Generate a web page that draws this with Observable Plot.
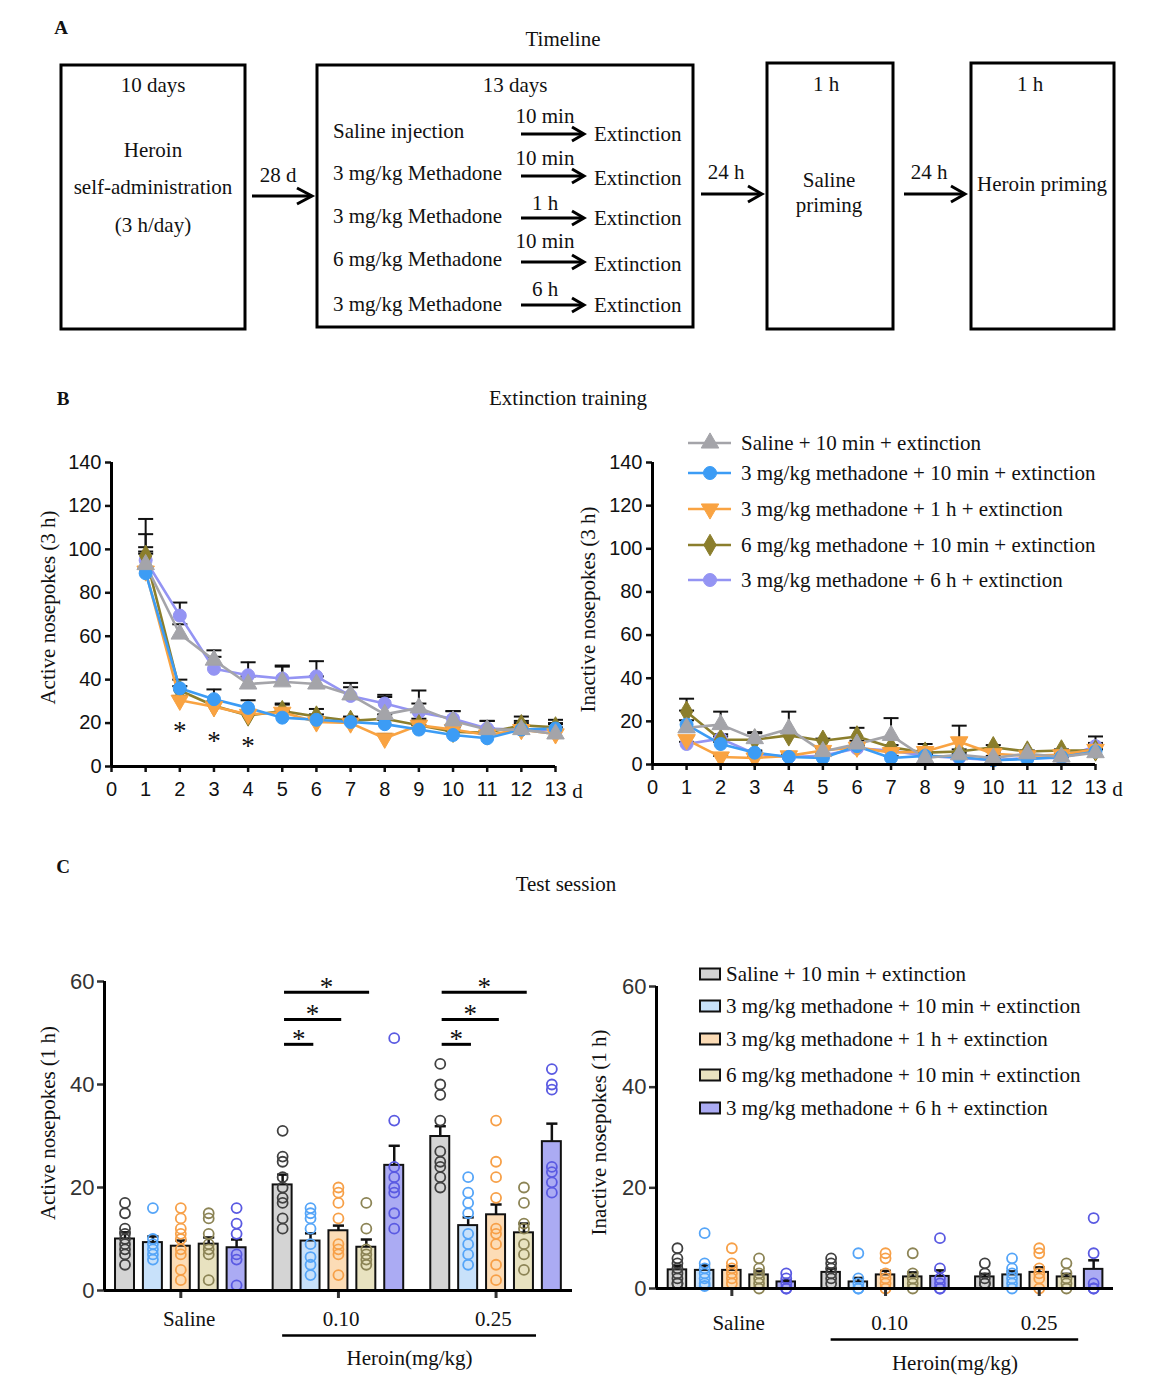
<!DOCTYPE html>
<html><head><meta charset="utf-8">
<script src="https://cdn.jsdelivr.net/npm/d3@7"></script>
<script src="https://cdn.jsdelivr.net/npm/@observablehq/plot@0.6"></script>
<style>
body{margin:0;background:#fff;}
#fig{position:relative;width:1174px;height:1382px;background:#fff;overflow:hidden;}
.wrap{position:absolute;}
</style></head><body><div id="fig"></div>
<script>
// ---------------- data ----------------
const days = [1,2,3,4,5,6,7,8,9,10,11,12,13];
const dayTicks = [0,1,2,3,4,5,6,7,8,9,10,11,12,13];
const seriesNames = [
  "Saline + 10 min + extinction",
  "3 mg/kg methadone + 10 min + extinction",
  "3 mg/kg methadone + 1 h + extinction",
  "6 mg/kg methadone + 10 min + extinction",
  "3 mg/kg methadone + 6 h + extinction"
];
const lineColors = ["#a4a4a9", "#3c9cf5", "#f9a342", "#8b7e2c", "#9494f3"];

// Panel B, active nosepokes (3 h): mean per day
const activeSaline = [93, 61, 49, 38, 39, 38, 33, 24, 27, 21, 17, 17, 15];
const activeM3min10 = [89, 36, 31, 27, 22.5, 21.5, 20.5, 19.5, 17, 14.5, 13, 17, 17.5];
const activeM3h1 = [90, 30.5, 27.5, 24, 25, 20.5, 20, 13, 19, 17, 14.5, 17, 15];
const activeM6min10 = [97, 35, 28, 23.5, 25.5, 23, 21, 22, 19, 16, 15.5, 19, 18];
const activeM3h6 = [95, 69.5, 45, 42, 40.5, 41.5, 32.5, 29, 25, 22, 17.5, 17, 17];
// SEM
const activeSalineSem = [14, 4.5, 4.5, 3.5, 7, 3.5, 5.5, 8, 8, 4.5, 4, 6, 3];
const activeM3min10Sem = [9, 4, 4.5, 3.5, 3, 2.5, 2, 2, 2, 2, 2, 2, 2];
const activeM3h1Sem = [9, 2, 2, 2, 3.5, 2, 2, 2, 3, 2, 1.5, 2, 2];
const activeM6min10Sem = [4, 2, 2, 2, 3.5, 3.5, 2, 2, 2, 2, 2, 2, 3.5];
const activeM3h6Sem = [19, 6, 5.5, 6, 6, 7, 4, 4, 4, 3.5, 3.5, 3, 3];

// Panel B, inactive nosepokes (3 h)
const inactiveSaline = [17, 18.5, 12, 16.5, 6, 9.5, 13.5, 3, 4.5, 3, 5, 3.5, 5.5];
const inactiveM3min10 = [18.5, 9.5, 5.5, 3.5, 3, 8.5, 3, 4, 3.5, 2, 2.5, 3.5, 6];
const inactiveM3h1 = [11.5, 3.5, 3, 4, 6.5, 8, 5.5, 6, 10.5, 5, 4, 4.5, 7];
const inactiveM6min10 = [24.5, 11.5, 11.5, 13.5, 11, 13, 8, 5.5, 6, 8, 6, 6.5, 6.5];
const inactiveM3h6 = [9.5, 12, 5, 3.5, 4, 7.5, 6.5, 4, 3, 2, 3, 3, 8.5];
const inactiveSalineSem = [13.5, 6, 3, 8, 2, 1.5, 8, 1.5, 1, 1, 1, 1, 7.5];
const inactiveM3min10Sem = [2, 1, 1, 1, 1, 1, 1, 1, 1, 0.5, 0.5, 0.5, 1];
const inactiveM3h1Sem = [1.5, 0.5, 0.5, 0.5, 1, 1, 1, 1, 7.5, 1, 0.5, 0.5, 1];
const inactiveM6min10Sem = [0.5, 2.5, 3, 1, 1, 4, 1, 4, 1, 1, 0.5, 0.5, 1];
const inactiveM3h6Sem = [1, 1, 1, 0.5, 1, 1, 1, 1, 0.5, 0.5, 0.5, 0.5, 1.5];

// significance stars in B (day, value)
const starDays = [2, 3, 4];
const starValues = [19, 14.3, 12];

// Panel C
const groupNames = ["Saline", "0.10", "0.25"];
const barFills = ["#d4d4d4", "#c8e1fa", "#fcdcb6", "#e8e2c0", "#ababf3"];
const dotColors = ["#404040", "#55a5f8", "#f7a048", "#8c8455", "#5a5ae2"];

const activeTestSaline = [10, 9.3, 8.6, 9, 8.3];
const activeTest010 = [20.5, 9.6, 11.6, 8.4, 24.3];
const activeTest025 = [29.9, 12.6, 14.7, 11.2, 28.9];
const activeTestSalineSem = [1.3, 1.2, 1.1, 1.3, 1.6];
const activeTest010Sem = [2, 1.5, 1, 1.5, 3.8];
const activeTest025Sem = [2, 1.6, 2, 1.8, 3.5];
const activeDotsSaline = [[17,15,12,11,10,9,8,7,5],[16,10,9,8,7,6],[16,14,12,11,10,8,7,4,2],[15,14,11,9,8,7,2],[16,13,11,7,6,1]];
const activeDots010 = [[31,26,25,22,20,18,17,14,12],[16,15,14,12,9,6.5,5,3],[20,19,17,14,9,8,7,3],[17,12,8,7,6,5],[49,33,24,22,20,19,15,12]];
const activeDots025 = [[44,40,38,33,27,25,24,22,20],[22,19,17,15,11,9,7,5],[33,25,22,18,12,11,9,5,2],[20,17,13,12,9,7,4],[43,40,39,24,23,21,19]];

const inactiveTestSaline = [3.7, 3.6, 3.6, 2.7, 1.3];
const inactiveTest010 = [3.2, 1.3, 2.7, 2.3, 2.4];
const inactiveTest025 = [2.3, 2.7, 3.2, 2.3, 3.8];
const inactiveTestSalineSem = [0.8, 1, 0.8, 0.7, 0.4];
const inactiveTest010Sem = [0.7, 0.8, 0.8, 0.9, 1.2];
const inactiveTest025Sem = [0.6, 0.7, 1, 0.6, 1.8];
const inactiveDotsSaline = [[8,6,5,4,3,2,1,1],[11,5,4,3,2,1,0.5],[8,5,4,3,2,1],[6,4,3,2,1,0],[3,2,1,0,0]];
const inactiveDots010 = [[6,5,4,3,2,1],[7,2,1,0,0],[7,6,3,2,1,0],[7,3,2,1,0],[10,4,2,1,0,0]];
const inactiveDots025 = [[5,3,2,1,1],[6,4,3,2,1,0],[8,7,4,3,2,0],[5,3,2,1,0],[14,7,1,0,0]];

// significance brackets in C (active): groups, compared bar, height
const sigGroups = [1, 2];
const sigTargets = [1, 2, 3];
const sigHeights = [47.8, 52.6, 57.9];

// ---------------- helpers ----------------
const SERIF = "'Liberation Serif','Times New Roman',serif";
const SANS = "'Liberation Sans',Arial,sans-serif";
const fig = document.getElementById("fig");
function place(node, left, top, width) {
  const w = document.createElement("div");
  w.className = "wrap";
  w.style.left = left + "px"; w.style.top = top + "px"; w.style.width = width + "px";
  w.appendChild(node); fig.appendChild(w);
}
const triangleDown = {
  draw(context, size) {
    const y = -Math.sqrt(size / (Math.sqrt(3) * 3));
    context.moveTo(0, -y * 2);
    context.lineTo(-Math.sqrt(3) * y, y);
    context.lineTo(Math.sqrt(3) * y, y);
    context.closePath();
  }
};
const lineSymbols = [d3.symbolTriangle, d3.symbolCircle, triangleDown, d3.symbolDiamond, d3.symbolCircle];

function lineChart(o) {
  const data = seriesNames.map((s, k) => days.map((d, i) => ({k, day: d, value: o.means[k][i], top: o.means[k][i] + o.sems[k][i]})));
  const order = [4, 3, 2, 1, 0];
  const marks = [];
  for (const k of order) {
    marks.push(Plot.ruleX(data[k], {x: "day", y1: "value", y2: "top", stroke: "#111", strokeWidth: 2}));
    marks.push(Plot.link(data[k], {x1: d => d.day - 0.22, x2: d => d.day + 0.22, y1: "top", y2: "top", stroke: "#111", strokeWidth: 2}));
  }
  for (const k of order) marks.push(Plot.line(data[k], {x: "day", y: "value", stroke: lineColors[k], strokeWidth: 2.6}));
  for (const k of order) marks.push(Plot.dot(data[k], {x: "day", y: "value", symbol: lineSymbols[k], r: 6.5, fill: lineColors[k], stroke: lineColors[k], strokeWidth: 1}));
  if (o.stars) marks.push(Plot.text(o.stars, {x: "day", y: "v", text: () => "*", fontFamily: SERIF, fontSize: 27, dy: 6, fill: "#111"}));
  marks.push(
    Plot.axisY(d3.range(0, 141, 20), {tickSize: 6, strokeWidth: 2.5, tickPadding: 4, fontSize: 20, label: null}),
    Plot.axisX(dayTicks, {tickSize: 6, strokeWidth: 2.5, tickPadding: 9, fontSize: 20, label: null}),
    Plot.ruleY([0], {stroke: "#000", strokeWidth: 3}),
    Plot.ruleX([0], {stroke: "#000", strokeWidth: 3}),
    Plot.text([{x: days[days.length - 1], y: 0, t: "d"}], {x: "x", y: "y", text: "t", dx: 22, dy: 25, fontFamily: SERIF, fontSize: 21, fill: "#111"}),
    Plot.text([o.label], {frameAnchor: "left", textAnchor: "middle", rotate: -90, dx: o.labelDx, dy: o.labelDy, fontFamily: SERIF, fontSize: 21, fill: "#111"})
  );
  return Plot.plot({
    width: o.width, height: o.height,
    marginLeft: o.mL, marginRight: o.mR, marginTop: o.mT, marginBottom: o.mB,
    x: {domain: [0, 13]}, y: {domain: [0, 140]},
    style: {fontFamily: SANS, fontSize: "20px", color: "#111", background: "transparent", overflow: "visible"},
    marks
  });
}

const groupStep = 5.65;
function barChart(o) {
  const bars = [], pts = [];
  groupNames.forEach((g, gi) => seriesNames.forEach((s, i) => {
    const x = gi * groupStep + i;
    bars.push({i, x, mean: o.means[gi][i], top: o.means[gi][i] + o.sems[gi][i]});
    o.dots[gi][i].forEach(v => pts.push({i, x, v}));
  }));
  const centers = groupNames.map((g, gi) => gi * groupStep + 2);
  const marks = [
    Plot.rect(bars, {x1: d => d.x - 0.34, x2: d => d.x + 0.34, y1: () => 0, y2: "mean", fill: d => barFills[d.i], stroke: "#111", strokeWidth: 2}),
    Plot.ruleX(bars, {x: "x", y1: "mean", y2: "top", stroke: "#111", strokeWidth: 2.5}),
    Plot.link(bars, {x1: d => d.x - 0.2, x2: d => d.x + 0.2, y1: "top", y2: "top", stroke: "#111", strokeWidth: 2.5}),
    Plot.dot(pts, {x: "x", y: "v", r: 5, stroke: d => dotColors[d.i], strokeWidth: 1.8, fill: "none"}),
    Plot.axisY([0, 20, 40, 60], {tickSize: 7, strokeWidth: 2.5, tickPadding: 3, fontSize: 22, label: null}),
    Plot.axisX(centers, {tickSize: 8, strokeWidth: 3, tickFormat: () => "", label: null}),
    Plot.ruleY([0], {stroke: "#000", strokeWidth: 3}),
    Plot.ruleX([o.xDomain[0]], {stroke: "#000", strokeWidth: 3}),
    Plot.text(groupNames, {x: (d, i) => centers[i] + o.catDx[i], y: () => 0, dy: o.catDy, fontFamily: SERIF, fontSize: 21, fill: "#111"}),
    Plot.ruleY([0], {x1: () => groupStep, x2: () => 2 * groupStep + 3.45, dy: o.lineDy, stroke: "#000", strokeWidth: 2.5}),
    Plot.text(["Heroin(mg/kg)"], {x: () => (groupStep + 2 * groupStep + 3.45) / 2, y: () => 0, dy: o.heroinDy, fontFamily: SERIF, fontSize: 21, fill: "#111"}),
    Plot.text([o.label], {frameAnchor: "left", textAnchor: "middle", rotate: -90, dx: o.labelDx, dy: o.labelDy, fontFamily: SERIF, fontSize: 21, fill: "#111"})
  ];
  if (o.sig) {
    const br = [];
    sigGroups.forEach(gi => sigTargets.forEach((t, k) => br.push({x1: gi * groupStep + 0.05, x2: gi * groupStep + t + 0.1, y: sigHeights[k]})));
    marks.push(
      Plot.link(br, {x1: "x1", x2: "x2", y1: "y", y2: "y", stroke: "#000", strokeWidth: 3}),
      Plot.text(br, {x: d => (d.x1 + d.x2) / 2, y: "y", text: () => "*", dy: -5, fontFamily: SERIF, fontSize: 27, fill: "#111"})
    );
  }
  return Plot.plot({
    width: o.width, height: o.height,
    marginLeft: o.mL, marginRight: o.mR, marginTop: o.mT, marginBottom: o.mB,
    x: {domain: o.xDomain}, y: {domain: [0, 60]},
    color: {type: "identity"},
    style: {fontFamily: SANS, fontSize: "21px", color: "#333", background: "transparent", overflow: "visible"},
    marks
  });
}

// ---------------- panel B ----------------
place(lineChart({
  means: [activeSaline, activeM3min10, activeM3h1, activeM6min10, activeM3h6],
  sems: [activeSalineSem, activeM3min10Sem, activeM3h1Sem, activeM6min10Sem, activeM3h6Sem],
  label: "Active nosepokes (3 h)", labelDx: -63, labelDy: -7,
  stars: starDays.map((d, i) => ({day: d, v: starValues[i]})),
  width: 600, height: 386, mL: 111, mR: 45, mT: 32, mB: 50
}), 0, 430, 600);

place(lineChart({
  means: [inactiveSaline, inactiveM3min10, inactiveM3h1, inactiveM6min10, inactiveM3h6],
  sems: [inactiveSalineSem, inactiveM3min10Sem, inactiveM3h1Sem, inactiveM6min10Sem, inactiveM3h6Sem],
  label: "Inactive nosepokes (3 h)", labelDx: -64, labelDy: -4,
  width: 584, height: 384, mL: 62, mR: 79, mT: 32, mB: 50
}), 590, 430, 584);

// ---------------- panel C ----------------
place(barChart({
  means: [activeTestSaline, activeTest010, activeTest025],
  sems: [activeTestSalineSem, activeTest010Sem, activeTest025Sem],
  dots: [activeDotsSaline, activeDots010, activeDots025],
  sig: true,
  label: "Active nosepokes (1 h)", labelDx: -56, labelDy: -13,
  xDomain: [-0.735, 16.04],
  catDx: [0.3, 0.1, -0.1], catDy: 29, lineDy: 45, heroinDy: 68,
  width: 600, height: 442, mL: 104, mR: 28, mT: 41, mB: 92
}), 0, 940, 600);

place(barChart({
  means: [inactiveTestSaline, inactiveTest010, inactiveTest025],
  sems: [inactiveTestSalineSem, inactiveTest010Sem, inactiveTest025Sem],
  dots: [inactiveDotsSaline, inactiveDots010, inactiveDots025],
  sig: false,
  label: "Inactive nosepokes (1 h)", labelDx: -57, labelDy: -5,
  xDomain: [-0.77, 16.03],
  catDx: [0.25, 0.15, 0], catDy: 35, lineDy: 51, heroinDy: 75,
  width: 584, height: 437, mL: 66, mR: 61, mT: 41, mB: 94
}), 590, 945, 584);

// ---------------- overlay: panel A, titles, legends ----------------
const svg = d3.select(fig).append("svg")
  .attr("width", 1174).attr("height", 1382)
  .style("position", "absolute").style("left", 0).style("top", 0).style("pointer-events", "none")
  .attr("font-family", SERIF).attr("font-size", 21).attr("fill", "#111");

function txt(x, y, s, anchor = "middle", extra = {}) {
  const t = svg.append("text").attr("x", x).attr("y", y).attr("text-anchor", anchor).attr("dominant-baseline", "central").text(s);
  for (const k in extra) t.attr(k, extra[k]);
  return t;
}
function box(x1, y1, x2, y2) {
  svg.append("rect").attr("x", x1).attr("y", y1).attr("width", x2 - x1).attr("height", y2 - y1)
    .attr("fill", "none").attr("stroke", "#000").attr("stroke-width", 3);
}
function arrow(x1, x2, y, head = 12, half = 7) {
  svg.append("line").attr("x1", x1).attr("x2", x2 - 1).attr("y1", y).attr("y2", y).attr("stroke", "#000").attr("stroke-width", 3);
  svg.append("path").attr("d", `M${x2 - head},${y - half}L${x2},${y}L${x2 - head},${y + half}`)
    .attr("fill", "none").attr("stroke", "#000").attr("stroke-width", 3);
}

// panel labels & titles
txt(61, 27, "A", "middle", {"font-weight": "bold", "font-size": 19});
txt(563, 39, "Timeline");
txt(63, 398, "B", "middle", {"font-weight": "bold", "font-size": 19});
txt(568, 398, "Extinction training");
txt(63, 866, "C", "middle", {"font-weight": "bold", "font-size": 19});
txt(566, 884, "Test session");

// timeline
box(61, 65, 245, 329);
txt(153, 85, "10 days"); txt(153, 150, "Heroin"); txt(153, 187, "self-administration"); txt(153, 225, "(3 h/day)");
arrow(252, 312, 196, 15, 8); txt(278, 175, "28 d");
box(317, 65, 693, 327);
txt(515, 85, "13 days");
const rowsLeft = ["Saline injection", "3 mg/kg Methadone", "3 mg/kg Methadone", "6 mg/kg Methadone", "3 mg/kg Methadone"];
const rowsWait = ["10 min", "10 min", "1 h", "10 min", "6 h"];
const rowY = [131, 173, 216, 259, 304];
const arrowY = [134, 176, 218, 262, 305];
const waitY = [116, 158, 203, 241, 289];
const extY = [134, 178, 218, 264, 305];
rowsLeft.forEach((s, i) => {
  txt(333, rowY[i], s, "start");
  txt(545, waitY[i], rowsWait[i]);
  arrow(521, 584, arrowY[i], 12, 7);
  txt(594, extY[i], "Extinction", "start");
});
arrow(701, 762, 194, 14, 8); txt(726, 172, "24 h");
box(767, 63, 893, 329);
txt(826, 84, "1 h"); txt(829, 180, "Saline"); txt(829, 205, "priming");
arrow(904, 965, 194, 14, 8); txt(929, 172, "24 h");
box(971, 63, 1114, 329);
txt(1030, 84, "1 h"); txt(1042, 184, "Heroin priming");

// legend B
const legBY = [443, 473, 509, 545, 580];
seriesNames.forEach((s, k) => {
  const y = legBY[k];
  svg.append("line").attr("x1", 688).attr("x2", 731).attr("y1", y).attr("y2", y).attr("stroke", lineColors[k]).attr("stroke-width", 2.6);
  svg.append("path").attr("transform", `translate(710,${y})`).attr("d", d3.symbol(lineSymbols[k], Math.PI * 6.5 * 6.5)())
    .attr("fill", lineColors[k]).attr("stroke", lineColors[k]);
  txt(741, y, s, "start");
});

// legend C
const legCY = [974, 1006, 1039, 1075, 1108];
seriesNames.forEach((s, k) => {
  const y = legCY[k];
  svg.append("rect").attr("x", 700).attr("y", y - 5.5).attr("width", 20).attr("height", 11)
    .attr("fill", barFills[k]).attr("stroke", "#111").attr("stroke-width", 2);
  txt(726, y, s, "start");
});
</script></body></html>
